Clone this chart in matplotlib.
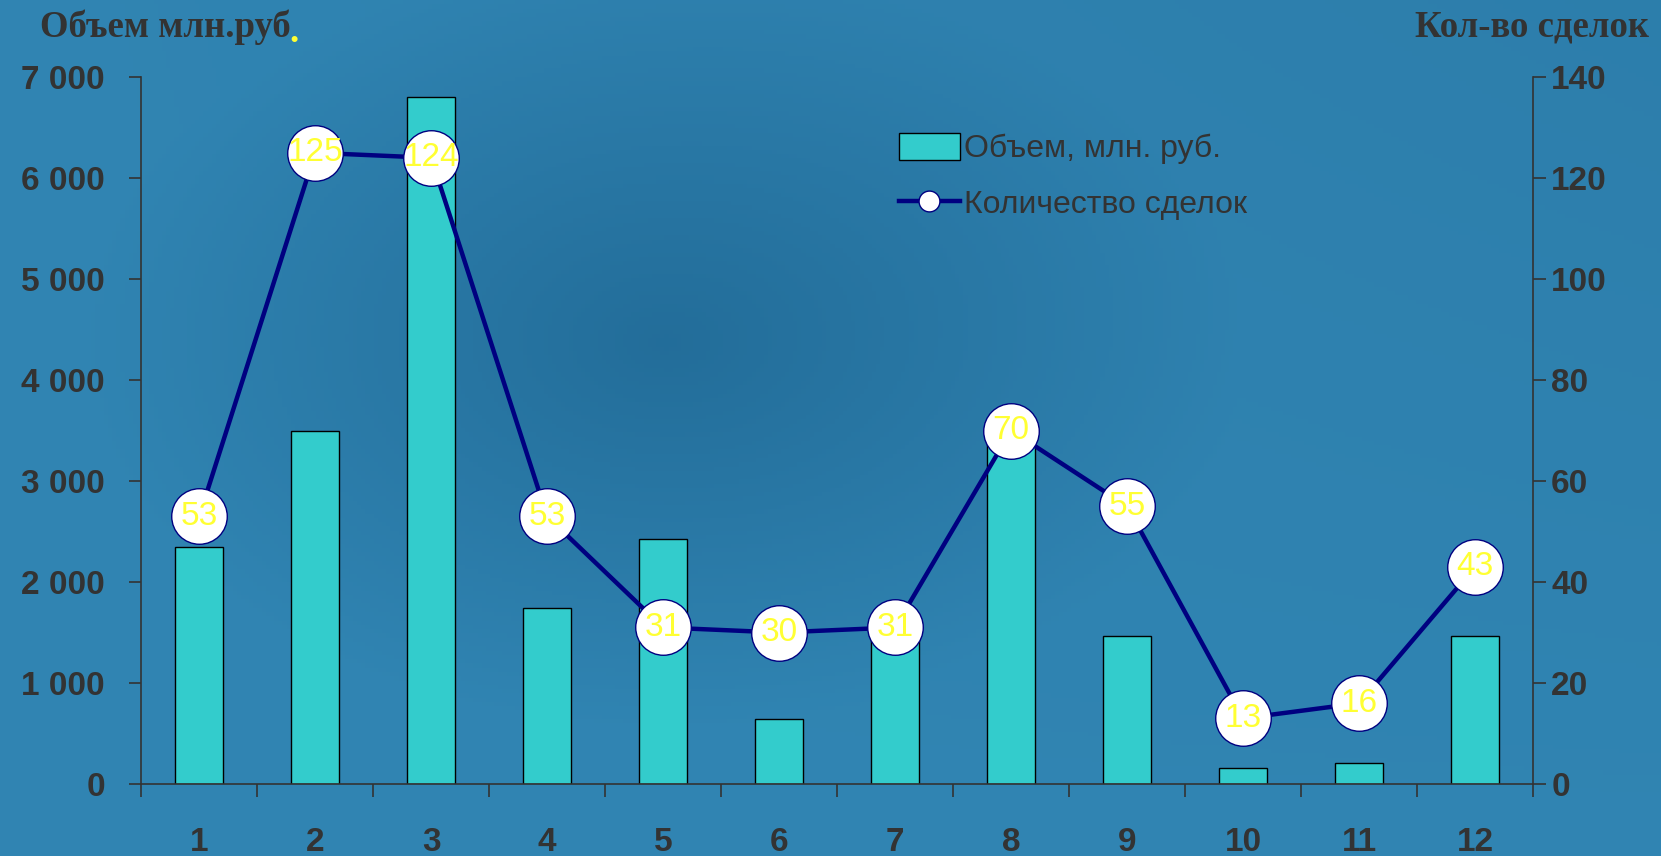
import numpy as np
import matplotlib.pyplot as plt
from matplotlib.patches import Patch
from matplotlib.lines import Line2D

# данные
months = [1, 2, 3, 4, 5, 6, 7, 8, 9, 10, 11, 12]
volume = [2350, 3500, 6800, 1740, 2430, 640, 1500, 3400, 1470, 160, 210, 1470]
deals = [53, 125, 124, 53, 31, 30, 31, 70, 55, 13, 16, 43]
vol_ticks = [0, 1000, 2000, 3000, 4000, 5000, 6000, 7000]
vol_labels = ['0', '1 000', '2 000', '3 000', '4 000', '5 000', '6 000', '7 000']
deal_ticks = [0, 20, 40, 60, 80, 100, 120, 140]

txt = '#333333'
bar_col = '#33CCCC'
line_col = '#000080'

fig = plt.figure(figsize=(16.61, 8.56), dpi=100)

# фон (градиент)
bg = fig.add_axes([0, 0, 1, 1], zorder=-10)
yy, xx = np.mgrid[0:1:200j, 0:1:400j]
d = np.sqrt(((xx - 0.40) / 0.35) ** 2 + ((yy - 0.40) / 0.45) ** 2)
shade = 0.5 + 0.5 * np.clip(d, 0, 1) - 0.15 * xx * (1 - yy)
c_dark = np.array([0.09, 0.35, 0.52])
c_light = np.array([0.19, 0.52, 0.70])
img = c_dark + (c_light - c_dark) * shade[..., None]
bg.imshow(np.clip(img, 0, 1), aspect='auto', extent=[0, 1, 0, 1])
bg.axis('off')

ax = fig.add_axes([0.0850, 0.0841, 0.8380, 0.8259])
ax.patch.set_alpha(0)
ax.bar(months, volume, width=0.41, color=bar_col, edgecolor='black', linewidth=1, zorder=2)
ax.set_xlim(0.5, 12.5)
ax.set_ylim(0, 7000)
ax.set_yticks(vol_ticks)
ax.set_yticklabels(vol_labels)
ax.set_xticks(months)
ax.set_xticks(np.arange(0.5, 13, 1), minor=True)
ax.tick_params(axis='x', which='major', length=0, pad=31)
ax.tick_params(axis='x', which='minor', length=9, width=1.2, color=txt, direction='out')
ax.tick_params(axis='y', length=9, width=1.2, color=txt, direction='out', pad=17)
for lab in ax.get_xticklabels() + ax.get_yticklabels():
    lab.set_fontsize(24)
    lab.set_fontweight('bold')
    lab.set_color(txt)
    lab.set_family('Liberation Sans')
ax.spines['top'].set_visible(False)
ax.spines['right'].set_visible(False)
for s in ['left', 'bottom']:
    ax.spines[s].set_color(txt)
    ax.spines[s].set_linewidth(1.2)

ax2 = ax.twinx()
ax2.plot(months, deals, color=line_col, linewidth=3.2, marker='o', markersize=40,
         markerfacecolor='white', markeredgecolor=line_col, markeredgewidth=1, zorder=3)
for m, v in zip(months, deals):
    ax2.text(m, v, str(v), ha='center', va='center', fontsize=24, color='#FFFF33',
             family='Liberation Sans', zorder=4)
ax2.set_ylim(0, 140)
ax2.set_yticks(deal_ticks)
ax2.tick_params(axis='y', length=9, width=1.2, color=txt, direction='out', pad=4)
for lab in ax2.get_yticklabels():
    lab.set_fontsize(24)
    lab.set_fontweight('bold')
    lab.set_color(txt)
    lab.set_family('Liberation Sans')
ax2.spines['top'].set_visible(False)
ax2.spines['left'].set_visible(False)
ax2.spines['bottom'].set_visible(False)
ax2.spines['right'].set_color(txt)
ax2.spines['right'].set_linewidth(1.2)

# заголовки осей
fig.text(0.024, 0.968, 'Объем млн.руб', fontsize=26.5, fontweight='bold', family='Liberation Serif',
         color=txt, ha='left', va='center')
fig.text(0.174, 0.962, '.', fontsize=26.5, fontweight='bold', family='Liberation Serif',
         color='#FFFF33', ha='left', va='center')
fig.text(0.993, 0.968, 'Кол-во сделок', fontsize=26.5, fontweight='bold', family='Liberation Serif',
         color=txt, ha='right', va='center')

# легенда
handles = [Patch(facecolor=bar_col, edgecolor='black', linewidth=1),
           Line2D([], [], color=line_col, linewidth=3.2, marker='o', markersize=15,
                  markerfacecolor='white', markeredgecolor=line_col)]
leg = fig.legend(handles, ['Объем, млн. руб.', 'Количество сделок'], loc='upper left',
                 bbox_to_anchor=(0.524, 0.878), frameon=False,
                 prop={'family': 'Liberation Sans', 'size': 23},
                 handlelength=1.9, handleheight=0.9, handletextpad=0.12, labelspacing=0.75)
for t in leg.get_texts():
    t.set_color(txt)

fig.savefig('out.png', dpi=100)
